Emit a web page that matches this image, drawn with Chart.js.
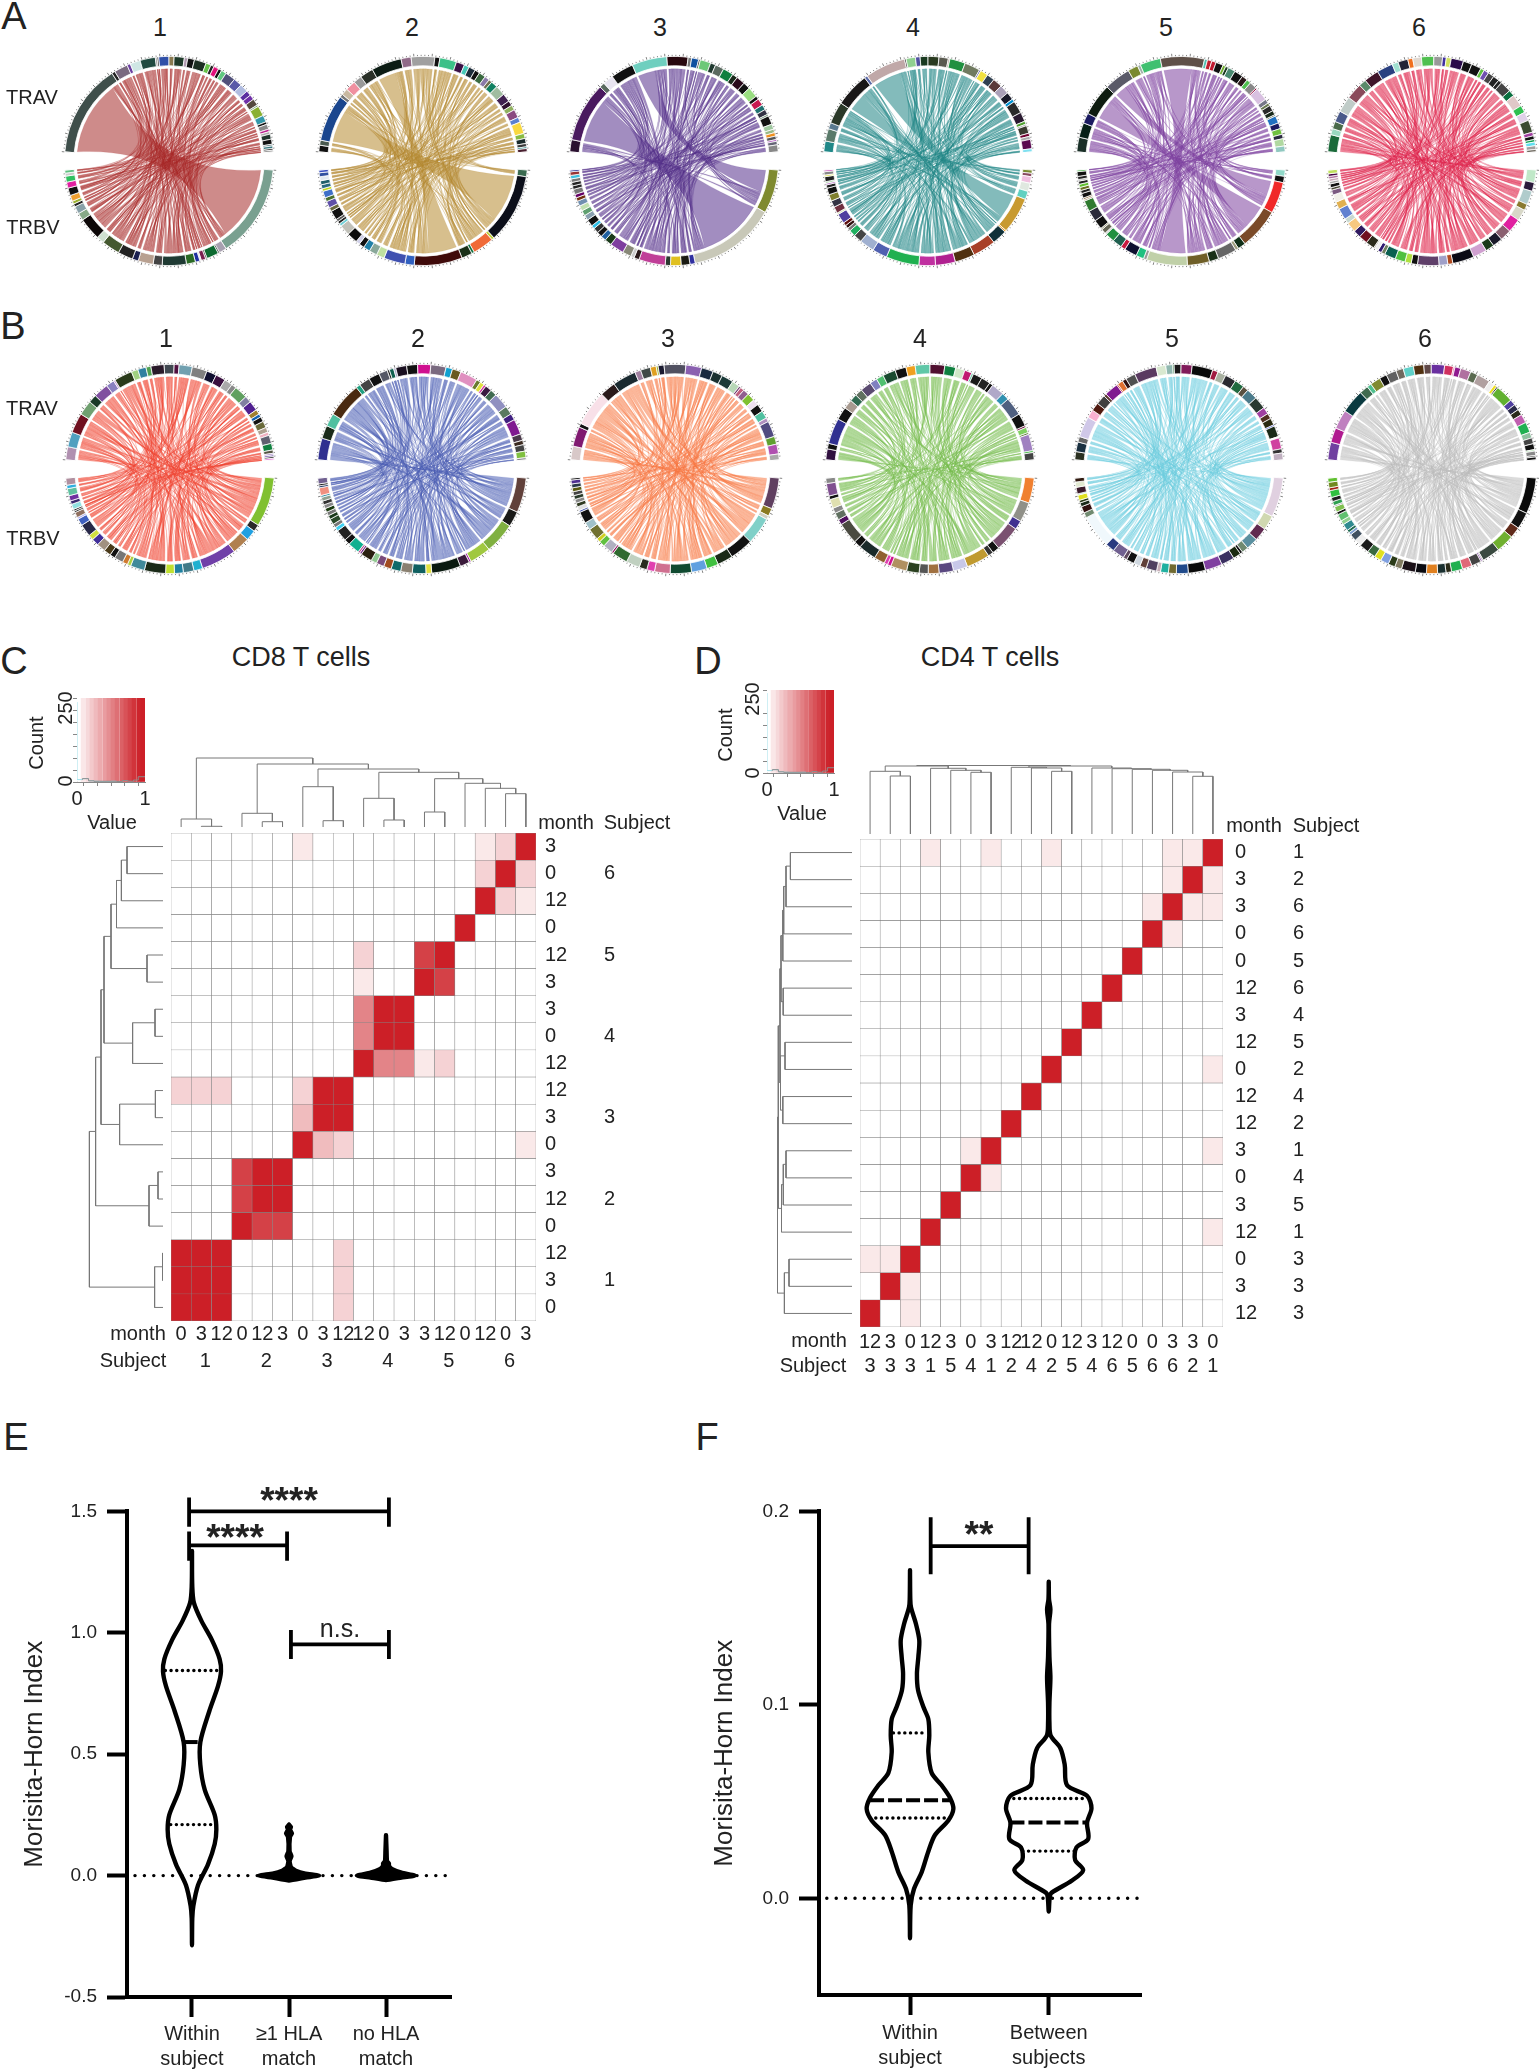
<!DOCTYPE html>
<html><head><meta charset="utf-8">
<script src="https://cdn.jsdelivr.net/npm/chart.js@4"></script>
<style>
html,body{margin:0;padding:0;background:#fff;}
#page{position:relative;width:1539px;height:2070px;overflow:hidden;font-family:"Liberation Sans",Arial,sans-serif;color:#222;}
canvas{position:absolute;display:block;}
.t{position:absolute;white-space:pre;line-height:1;}
</style></head><body><div id="page"></div>
<script>
/* ---------- chord panels: arc widths read from the rings, clockwise ---------- */
const A1_TRAV_W=[55,2,8,2,6,9,1,1,6,3,6,2,4,7,3,2,3,2,3,6,5,5,3,3,4,1,6,4,1.5,3,1.5,1.5,3,3,1,1.5,1,1];
const A1_TRAV_C='#3f4f4b #222 #7a6a80 #6b3fa0 #cfe6e4 #214a40 #888 #222 #3050a8 #8a7a50 #1f3a2a #b09ab0 #111 #1c2e22 #66c24a #222 #e0107a #111 #60c880 #50507a #5a5aa8 #b0bce0 #5b2fa0 #6f2fa8 #554a3e #88aa88 #8ab030 #3398aa #111 #888 #bb2090 #aaa #20352e #111 #4a6a70 #3a7a80 #111 #777'.split(' ');
const A1_TRBV_W=[62,5,1,8,1,3,1,3,6,16,6,10,4,10,12,5,15,5,5,2,2,4,5,4,4,2,2];
const A1_TRBV_C='#79a090 #a8a0b0 #1f2a25 #0d6a30 #222 #7a2050 #ddd #2030a0 #2a6a25 #1f3a33 #444 #b8a090 #1a2050 #222 #44582f #cfe0d0 #0d0808 #88aa88 #88a0a8 #222 #9ab030 #f0a030 #111 #e020a0 #30c060 #ccc #60c080'.split(' ');
const A2_TRAV_W=[4,3,28,2,4,6,5,8,18,6,14,3,10,5,3,4,3,4,3,2,4,6,5,3,3,5,3,7,3,3,2,1,2];
const A2_TRAV_C='#111 #4a5a50 #1a468e #777 #c8b8a0 #f090a0 #999 #2a3028 #0c1c14 #906a88 #a0a0a0 #111 #3cc088 #3a1045 #48c8b8 #1c2c3a #111 #3a6a40 #8a7aa8 #707050 #108060 #a0bca0 #402050 #301030 #90b060 #8a4a80 #5a80d0 #f8d840 #88bb44 #1a2a2a #3a3a3a #208080 #4a2030'.split(' ');
const A2_TRBV_W=[5,52,2,16,2,8,36,7,16,6,6,5,4,3,8,8,2,2,2,7,3,5,3,5,2,3,3,3,3,2];
const A2_TRBV_C='#3a6a50 #0c0f1a #c0d040 #f06a38 #107040 #1a3018 #3f0a0a #3060c0 #3f50b0 #c0e0a0 #8aa89a #2080a8 #111 #d0d0e8 #0c0c0c #c0c0b8 #70d0d8 #222 #555 #111 #6a6a40 #5f50a8 #4a7030 #3f70c8 #c0d820 #2a6a80 #20606a #e0e8f0 #3050a0 #3a50c0'.split(' ');
const A3_TRAV_W=[7,34,3,6,13,20,12,2,4,1,6,3,5,6,3,5,4,6,2,4,3,3,1,5,3,2,2,2,1,2,4];
const A3_TRAV_C='#2a1030 #4a1a5f #5a6a60 #e8e4f0 #111 #6fcfbf #28080f #777 #1050a0 #444 #6dc878 #203a30 #5a6a60 #108040 #1a2a1a #2a0a1a #111 #99dd80 #111 #c81a50 #207070 #334 #6a8a70 #111 #a0c8a0 #99bb88 #ee9020 #555 #b050c0 #667 #888'.split(' ');
const A3_TRBV_W=[25,50,3,5,6,3,15,3,2,5,8,4,3,3,3,2,4,3,3,3,3,2,2,3,2,2,2,2,2,1];
const A3_TRBV_C='#7f8a30 #c8c8b8 #3030a0 #1a1a12 #e0c020 #2a3a30 #c03f98 #2a1a1a #ccc #888878 #7f3f9f #1a3a1a #2060a0 #111 #333 #30c0e8 #111 #8aa0b0 #60a070 #c0e0b0 #7090b0 #703010 #606 #777 #222 #222 #777 #40c0e0 #933 #228'.split(' ');
const A4_TRAV_W=[7,8,4,14,22,2,26,1,6,3,5,7,6,1,10,10,1,5,5,6,6,5,2,8,6,2,1,5,2,2,6,2];
const A4_TRAV_C='#208888 #5a7a6a #5a7a90 #2a3828 #1a1818 #5a6aa8 #c0a8a8 #222 #90d090 #5050a0 #1a3a20 #2a3a20 #5a5a50 #b09a90 #209040 #707a60 #6060a0 #f0e040 #304050 #5a3a3a #aaa0b8 #1a1a2a #0090d0 #2a2a2a #2a1a30 #50a030 #999 #3a3a30 #700030 #aaa #5a0a50 #80e0f0'.split(' ');
const A4_TRBV_W=[2,2,4,5,5,22,1,9,14,12,12,10,20,9,9,5,4,2,2,2,6,1,4,4,4,4,2,1,1,3,1,2,1];
const A4_TRBV_C='#7a8a30 #8a4a60 #f0c0e0 #e0e8e0 #60d0c0 #c89a30 #f0a030 #103038 #a84028 #503010 #b02090 #c030a0 #20b050 #5060b0 #a0b0d0 #444 #20b060 #777 #301010 #601010 #5040a0 #d0e0b0 #703040 #334 #80802f #111 #222 #b060c0 #a0d0a0 #222 #e0e040 #888 #c040b0'.split(' ');
const A5_TRAV_W=[10,10,7,22,18,7,2,14,30,2,3,3,5,2,2,5,6,4,3,5,1,9,3,2,4,3,1,5,4,4,3,5,4];
const A5_TRAV_C='#1a3028 #062018 #1a1a60 #0e1c10 #5a5a68 #7a8a30 #a0b0a8 #40c070 #5f5048 #50c0b0 #c02030 #c01a30 #111 #70b030 #1a3a20 #4a8a70 #111 #2a1a1a #50c050 #888 #901040 #d8c0e0 #778 #6a7a50 #2a2a2a #1a2a1a #5a6a50 #2070c0 #1a1a60 #70c040 #2a2a40 #b0d8a0 #90c8c0'.split(' ');
const A5_TRBV_W=[4,4,20,26,5,2,12,6,14,26,2,5,8,3,6,6,1,3,1,6,7,7,1,1,3,2,2,2,2,1,2,3,1];
const A5_TRBV_C='#90d8c8 #111 #f02828 #7a4a28 #103018 #a0a080 #666 #1a3018 #6f5f28 #c0d0a8 #999 #20c080 #0e1030 #c81a40 #206050 #209040 #ccc #665 #aa8 #111 #2a2a3a #2f7a30 #b0a088 #806030 #111 #222 #6a7020 #60c030 #222 #aaa #222 #111 #30a030'.split(' ');
const A6_TRAV_W=[14,5,6,9,13,13,6,12,13,5,8,4,7,10,7,3,4,10,7,8,3,4,5,5,3,9,5,10,6,7,10,3,3,2,3,3,2];
const A6_TRAV_C='#1a6a3a #9ad8c0 #4a6a4a #4a5a8a #c0ccc8 #8a4a5a #5a8a6a #40152a #2a4080 #a0e0d0 #222438 #f07020 #e0d8d0 #50c050 #999 #4030a0 #d0e060 #2a0a4a #111 #111 #60c040 #7050b0 #444 #222 #222 #444 #0a7040 #e0c8c8 #30c050 #e0d0e8 #3a4a30 #a040a0 #111 #10a050 #60e0f0 #a0a0a0 #706a60'.split(' ');
const A6_TRBV_W=[10,7,11,5,9,11,9,8,7,11,17,4,7,17,5,5,8,9,3,3,3,1,7,7,6,8,4,9,6,6,4,2,3,2,2,2,2,3];
const A6_TRBV_C='#c0e8c8 #2a1a3a #b0cccc #8a7a30 #d8d8c8 #e020a0 #8a6070 #1a1a2a #1a3a1a #d0a0d0 #0a0a14 #b04a20 #a0a0c8 #60406a #111 #b0e040 #50c040 #0a6050 #708060 #301a70 #eee #a8a090 #2a2a1a #701020 #301a60 #f8c880 #c8d8d0 #6080d0 #e0b050 #f0f0e8 #7a5a80 #443 #111 #aaa #c8a8b8 #b070a0 #404 #c0e060'.split(' ');
const B1_TRAV_W=[8,9,12,9,5,9,5,1,11,4,5,3,8,6,3,8,9,6,6,5,3,8,4,6,3,2,3,4,3,2,5,4,2,1,1,1,1];
const B1_TRAV_C='#b090b0 #50a0c0 #701020 #70a070 #1a3a28 #8050a0 #8a80c0 #c090d0 #2a3a1a #a0d080 #3080a0 #50a050 #2a1a2a #404850 #501040 #70a0b0 #808080 #101030 #3a1040 #aaa #888 #60a060 #8080a0 #502090 #a08030 #1060b0 #111 #6a6a3a #b0a090 #f0b0c0 #606070 #108040 #554 #a080c0 #6040a0 #111 #e060d0'.split(' ');
const B1_TRBV_W=[28,4,6,10,20,5,6,5,5,12,8,2,3,5,3,4,5,4,3,7,4,1,3,1,1,3,2,3,4,2,4];
const B1_TRBV_C='#80c030 #2a2a2a #20a0e0 #b08050 #7040a8 #20b0d0 #407a88 #2080a0 #c0e030 #1a2a18 #408a9a #b0d040 #d07a30 #777 #111 #4a3a1a #a09080 #40309a #d0e040 #282848 #4060c0 #a0a0f0 #907060 #333 #222 #90e0e0 #3a2a70 #7030a0 #60c0a0 #30b0e0 #b090a0'.split(' ');
const B2_TRAV_W=[10,6,6,16,2,5,5,4,1,2,1,5,5,6,7,3,4,8,2,2,1,3,3,7,4,3,7,3,2,3,3,1];
const B2_TRAV_C='#303090 #1a2a1a #50c0a0 #4a2a10 #20a080 #444 #111 #555866 #222 #106050 #aac #1a1020 #111 #d01090 #7a6a80 #10a0d0 #6a5a20 #e090c0 #6a7a30 #e0e040 #d030a0 #3a1a40 #406a50 #9090c0 #5a7a60 #402080 #801a90 #4a3a4a #3a2a20 #444 #80c040 #888'.split(' ');
const B2_TRBV_W=[18,8,16,11,1,5,15,3,7,6,5,4,4,3,6,1,1,6,3,6,2,2,3,2,2,2,2,2,2,1,4,1,1,3];
const B2_TRBV_C='#60403a #1a1a18 #80b040 #a0c840 #a020a0 #3a1a3a #0a1a10 #e0e040 #106060 #8a8070 #106a6a #a04a20 #7a4a7a #90c890 #2a2010 #702080 #c05090 #10b090 #111 #222 #40d0f0 #777 #2a4a2a #1a3a1a #777 #1a3a10 #888 #333 #90a090 #3090a0 #f09080 #1a3060 #111 #706090'.split(' ');
const B3_TRAV_W=[7,10,2,18,8,12,3,5,3,1,3,11,8,6,5,6,4,1,2,3,4,3,4,4,2,8,4,5,3];
const B3_TRAV_C='#d8c8c8 #801a70 #111 #f8e0e8 #2a1a1a #1a2a30 #a080a0 #404a48 #e0a020 #9ab030 #1a1a30 #505060 #8a60b0 #1a2a40 #1a3030 #1a3a38 #b8d8b8 #704070 #c06080 #906090 #80c030 #eee0f0 #111 #50c0a0 #b090c0 #504a80 #60a030 #b050b0 #aaa'.split(' ');
const B3_TRBV_W=[16,4,2,14,12,8,6,8,11,8,4,4,7,8,1,5,3,2,6,4,6,1,2,2,2,2,2,2,2,2,1];
const B3_TRBV_C='#604060 #8a7a20 #d0d0c0 #80d0c8 #111 #1a2a18 #40c040 #60a0e0 #104a30 #d07090 #e040b0 #2a2a20 #c0d0c0 #306a30 #901060 #b0b0c0 #60c040 #d0d020 #707030 #a0c0c8 #111 #5060b0 #e0e0e0 #303a20 #888 #2a3a2a #444 #5a5a10 #2a3a4a #503090 #111'.split(' ');
const B4_TRAV_W=[6,3,14,7,5,4,4,6,4,4,7,6,5,8,8,6,5,4,1,5,5,2,7,4,10,7,1,3,1,9,1,4];
const B4_TRAV_C='#301040 #111 #303090 #111 #a89a90 #306a50 #607060 #5a4a70 #8080c0 #50c070 #1a4a30 #111 #f0a020 #60c8a8 #501030 #108040 #d0e8c8 #c01a70 #60c0a0 #1a1a1a #222 #111 #b0a8c8 #3090b0 #506080 #111 #701040 #80d060 #5a7a30 #a080c0 #30b030 #444'.split(' ');
const B4_TRBV_W=[14,11,5,14,4,3,13,8,8,6,5,7,9,2,2,6,10,4,12,3,4,3,5,2,7,3];
const B4_TRBV_C='#f08030 #909088 #403090 #7a5070 #111 #333 #c09a30 #c8c8e8 #5a4880 #a07040 #555 #2a4020 #b09060 #d01090 #e040b0 #906030 #1a2a2a #111 #4a4a40 #501060 #607060 #888 #e0e0b0 #111 #805090 #888'.split(' ');
const B5_TRAV_W=[6,7,4,15,6,6,7,2,10,1,4,3,7,16,7,5,1,5,8,15,4,6,8,7,4,8,9,5,4,5,1,8,1,8,3,5];
const B5_TRAV_C='#2a3020 #1a3040 #666 #d0c8e8 #f8b0d0 #501a10 #404040 #5a3a30 #801a90 #c02020 #e07030 #301010 #505050 #5a3a60 #d8e8d0 #90b8b0 #1a7030 #1a1a1a #801a5a #0a0a0a #a01a40 #a8b0a0 #2a2a30 #206a40 #5a5040 #4a7a8a #2a3a30 #a040a0 #503020 #2a2a10 #3040c0 #1a2a18 #fff #d040a0 #333 #c0b0c0'.split(' ');
const B5_TRBV_W=[30,11,10,9,5,2,6,10,13,13,9,6,6,3,8,5,5,6,3,9,7,25,4,5,3,2,4,1,5,4,3];
const B5_TRBV_C='#e0d0e0 #d0d8b0 #602a50 #5a90a0 #708a70 #111 #1a2a10 #3a3060 #8040a0 #0a0a0a #204a8a #706a30 #20b0a0 #c8b0b8 #504060 #604038 #d0d8e0 #111 #604a60 #706090 #2a3a80 #f0f8fc #708a70 #301010 #1a2a1a #2a3a1a #e0e020 #b0e0c0 #3a1a2a #e0e8d0 #301a10'.split(' ');
const B6_TRAV_W=[12,10,13,16,6,3,7,5,7,5,7,7,5,9,6,1,4,7,5,9,4,2,1,12,4,4,4,6,7,4,4,4,1,3,1,2];
const B6_TRAV_C='#7040a0 #b01a90 #c080c0 #0a3a40 #406a50 #50c090 #808a30 #111 #606060 #706a60 #60d0c8 #503010 #604848 #6a30a0 #d03060 #e060a0 #901a90 #b070a0 #5a6a50 #b0a0a0 #eee #f0e020 #222 #60b030 #5040a0 #2a2a4a #2a2a1a #c060b0 #20b050 #90c0a0 #444 #111 #b0e0b0 #888 #333 #111'.split(' ');
const B6_TRBV_W=[26,12,8,13,13,1,1,7,7,8,4,6,8,8,10,5,5,6,5,6,7,5,5,2,2,5,3,5,2,4,1,3,3,5,2,4,3];
const B6_TRBV_C='#0a0a0a #111 #602a1a #70b030 #3a4a40 #a0a0a0 #6a1a8a #444 #e06878 #20b050 #2a2a18 #1a3030 #e08020 #0a0a10 #1a1018 #807a60 #2a3a18 #80a0e0 #e0e020 #3a6a40 #1a1a1a #eee #405060 #80a0d0 #206a50 #308a90 #90d090 #60c070 #111 #80c050 #888 #30a050 #202020 #30c040 #a02010 #708a20 #60c030'.split(' ');

/* dominant clone pairs: TRAV arc, TRBV arc, share of the arc */
const A1_PAIRS=[[0,0,.92]];
const A2_PAIRS=[[2,1,.8],[8,6,.7]];
const A3_PAIRS=[[1,1,.85],[5,0,.6]];
const A4_PAIRS=[[6,5,.8],[4,6,.6]];
const A5_PAIRS=[[8,9,.75],[3,3,.65],[4,2,.55]];
const NO_PAIRS=[];
const RIBBON_A=['#a62b2a','#b68a30','#55308c','#1e8484','#7d429e','#e0264a'];
const RIBBON_B=['#f0442f','#4a5fb5','#f77b47','#73bc4a','#6dcde0','#bdbdbd'];

/* ---------- heatmaps ---------- */
const C_COL_MONTH=['0','3','12','0','12','3','0','3','12','12','0','3','3','12','0','12','0','3'];
const C_COL_SUBJECT=['','1','','','2','','','3','','','4','','','5','','','6',''];
const C_ROW_MONTH=['3','0','12','0','12','3','3','0','12','12','3','0','3','12','0','12','3','0'];
const C_ROW_SUBJECT=['','6','','','5','','','4','','','3','','','2','','','1',''];
/* non-zero cells: row, column, value */
const C_CELLS=[[0,6,.1],[0,15,.1],[0,16,.2],[0,17,1],[1,15,.2],[1,16,1],[1,17,.2],[2,15,1],[2,16,.2],[2,17,.1],[3,14,1],
[4,9,.2],[4,12,.85],[4,13,1],[5,9,.1],[5,12,1],[5,13,.85],[6,9,.55],[6,10,1],[6,11,1],[7,9,.55],[7,10,1],[7,11,1],
[8,9,1],[8,10,.55],[8,11,.55],[8,12,.1],[8,13,.2],[9,0,.2],[9,1,.2],[9,2,.2],[9,6,.2],[9,7,1],[9,8,1],[10,6,.3],[10,7,1],[10,8,1],
[11,6,1],[11,7,.3],[11,8,.2],[11,17,.1],[12,3,.85],[12,4,1],[12,5,1],[13,3,.85],[13,4,1],[13,5,1],[14,3,1],[14,4,.85],[14,5,.85],
[15,0,1],[15,1,1],[15,2,1],[15,8,.2],[16,0,1],[16,1,1],[16,2,1],[16,8,.2],[17,0,1],[17,1,1],[17,2,1],[17,8,.2]];
const D_COL_MONTH=['12','3','0','12','3','0','3','12','12','0','12','3','12','0','0','3','3','0'];
const D_COL_SUBJECT=['3','3','3','1','5','4','1','2','4','2','5','4','6','5','6','6','2','1'];
const D_ROW_MONTH=['0','3','3','0','0','12','3','12','0','12','12','3','0','3','12','0','3','12'];
const D_ROW_SUBJECT=['1','2','6','6','5','6','4','5','2','4','2','1','4','5','1','3','3','3'];
const D_CELLS=[[0,3,.1],[0,6,.1],[0,9,.1],[0,15,.1],[0,16,.1],[0,17,1],[1,15,.1],[1,16,1],[1,17,.1],[2,14,.1],[2,15,1],[2,16,.1],[2,17,.1],
[3,14,1],[3,15,.1],[4,13,1],[5,12,1],[6,11,1],[7,10,1],[8,9,1],[8,17,.1],[9,8,1],[10,7,1],[11,5,.1],[11,6,1],[11,17,.1],[12,5,1],[12,6,.1],
[13,4,1],[14,3,1],[14,17,.1],[15,0,.1],[15,1,.1],[15,2,1],[16,1,1],[16,2,.1],[17,0,1],[17,2,.1]];

/* dendrograms: [height, childA, childB], a number is a leaf */
const C_TOP_TREE=[69,[8,0,[0.7,1,2]],[63,[13.7,3,[5.3,4,5]],[58,[40.3,6,[6.3,7,8]],[54.7,[28.7,9,[7,10,11]],[48.3,[15,12,13],[43.7,14,[38.7,15,[33.3,16,17]]]]]]]];
const C_LEFT_TREE=[73.6,[67.4,[62,[59,[52,[46.5,[41.6,[36,0,1],2],3],[16,4,5]],[30.4,[8,6,7],8]],[43.4,[7.6,9,10],11]],[14,[5,12,13],14]],[8.4,[0.5,15,16],17]];
const D_TOP_TREE=[68.5,[68,[62.7,0,[58,1,2]],[65.7,3,[63.7,4,[61.7,5,6]]]],[68,[66.7,7,[66,8,[62.7,9,10]]],[66,11,[65.3,12,[64.7,13,[63.7,14,[62,15,[57.7,16,17]]]]]]]];
const D_LEFT_TREE=[74.5,[73.7,[72,[71,[69.2,[68.3,[66,[61.6,0,1],2],3],4],[68.8,5,6]],[71.5,[67,7,8],[69.2,9,10]]],[70.5,[68.7,[66,11,12],13],14]],[67.6,[63,15,16],17]];

/* colour key: histogram of values */
const KEY_BINS=[.03,.09,.16,.22,.28,.34,.41,.47,.53,.59,.66,.72,.78,.84,.91,.97];
const KEY_HIST_BLUE=[[0,333],[.08,10],[.17,14],[.25,5],[.33,3],[.42,2],[.5,2],[.58,3]];
const KEY_HIST_GRAY=[[.08,10],[.17,14],[.25,5],[.33,3],[.58,3],[.67,2],[.75,6],[.83,3],[.9,8],[.94,22],[1,22]];

/* ---------- violins: [value, half width in category units] ---------- */
const E_WITHIN=[[1.337,0],[1.19,.003],[1.123,.02],[1.05,.096],[.97,.206],[.892,.285],[.841,.299],[.78,.268],[.678,.179],[.55,.086],[.456,.086],[.354,.131],[.25,.234],[.19,.251],[.13,.234],[.046,.165],[-.04,.062],[-.125,.014],[-.176,.003],[-.287,0]];
const E_HLA=[[.21,0],[.2,.02],[.19,.01],[.174,.03],[.16,.01],[.1,.006],[.08,.025],[.06,.006],[.035,.02],[.02,.07],[.008,.17],[0,.31],[-.008,.17],[-.02,0]];
const E_NOHLA=[[.166,0],[.1,.006],[.06,.01],[.05,.03],[.04,.03],[.025,.07],[.012,.16],[0,.3],[-.008,.16],[-.018,0]];
const E_QUARTILES=[[1,.845,.275,'dot'],[1,.55,.086,'dash'],[1,.21,.22,'dot']];
const E_BRACKETS=[[.97,3.03,1.5,1.437,1.557],[.97,1.98,1.36,1.297,1.417],[2.02,3.03,.952,.892,1.012]];
const F_WITHIN=[[.1696,0],[.1547,.002],[.1504,.007],[.1418,.043],[.1333,.067],[.1247,.06],[.1161,.05],[.1076,.058],[.099,.096],[.0926,.132],[.0841,.139],[.0755,.132],[.0648,.156],[.0584,.228],[.052,.288],[.0462,.3125],[.0402,.276],[.0327,.18],[.0242,.132],[.0135,.084],[.0049,.029],[-.0036,.005],[-.0207,0]];
const F_BETWEEN=[[.1636,0],[.1547,.002],[.1493,.012],[.1418,.002],[.1247,.005],[.114,.012],[.1012,.005],[.0905,.005],[.0841,.014],[.0776,.084],[.0691,.115],[.0584,.132],[.053,.276],[.0466,.308],[.0391,.276],[.0306,.284],[.0263,.2],[.0199,.19],[.0145,.248],[.0092,.168],[.0028,.019],[.0006,.007],[-.0068,0]];
const F_QUARTILES=[[1,.0855,.12,'dot'],[1,.0507,.288,'dash'],[1,.0415,.288,'dot'],[2,.0516,.252,'dot'],[2,.0392,.276,'dash'],[2,.0244,.187,'dot']];
const F_BRACKETS=[[1.149,1.855,.182,.1675,.197]];
const E_LABELS=[['Within','subject'],['≥1 HLA','match'],['no HLA','match']];
const F_LABELS=[['Within','subject'],['Between','subjects']];

/* ---------- free text: string, x, y, size, rotation, weight ---------- */
const TEXTS=[['A',14,16,38],['B',13,326,38],['C',14,661,38],['D',708,661,38],['E',16,1437,38],['F',707,1437,38],
['1',160,27,25],['2',412,27,25],['3',660,27,25],['4',913,27,25],['5',1166,27,25],['6',1419,27,25],
['1',166,338,25],['2',418,338,25],['3',668,338,25],['4',920,338,25],['5',1172,338,25],['6',1425,338,25],
['TRAV',32,97,20],['TRBV',33,227,20],['TRAV',32,408,20],['TRBV',33,538,20],
['CD8 T cells',301,657,27],['CD4 T cells',990,657,27],
['250',65,708,20,-90],['0',65,781,20,-90],['Count',36,743,20,-90],['Value',112,822,20],
['250',752,699,20,-90],['0',752,773,20,-90],['Count',725,735,20,-90],['Value',802,813,20],
['month',566,822,20],['Subject',637,822,20],['month',138,1333,20],['Subject',133,1360,20],
['month',1254,825,20],['Subject',1326,825,20],['month',819,1340,20],['Subject',813,1365,20],
['****',289,1500,37,0,'bold'],['****',235,1537,37,0,'bold'],['n.s.',340,1628,25],['**',979,1534,37,0,'bold']];

/* ---------- helpers ---------- */
Chart.defaults.animation=false;
Chart.defaults.plugins.legend.display=false;
Chart.defaults.plugins.tooltip.enabled=false;
Chart.defaults.font.family='"Liberation Sans",Arial,sans-serif';
Chart.defaults.color='#222';
const page=document.getElementById('page');
function addCanvas(left,top,w,h){
  const c=document.createElement('canvas');
  c.width=w;c.height=h;c.style.left=left+'px';c.style.top=top+'px';c.style.width=w+'px';c.style.height=h+'px';
  page.appendChild(c);return c;
}
const base={responsive:false,maintainAspectRatio:false,events:[]};
const noPad=s=>{s.paddingTop=0;s.paddingBottom=0;s.paddingLeft=0;s.paddingRight=0;};

/* chord */
const GAP_DEG=10,HALF_DEG=170,PASSES=4,PINCH=.28;
const gcd=(a,b)=>b?gcd(b,a%b):a;
function order(n,stride,off){let s=stride;while(gcd(s,n)!==1)s++;const o=[];for(let k=0;k<n;k++)o.push((k*s+off)%n);return o;}
function buildLinks(aW,bW,pairs){
  const sa=aW.reduce((x,y)=>x+y,0),sb=bW.reduce((x,y)=>x+y,0);
  const ra=aW.map(v=>v/sa),rb=bW.map(v=>v/sb),fa=ra.slice(),fb=rb.slice(),links=[];
  pairs.forEach(([i,j,f])=>{links.push([i,j,fa[i]*f,fb[j]*f]);ra[i]-=fa[i]*f;rb[j]-=fb[j]*f;});
  const strA=[7,11,5,13],strB=[5,17,9,3];
  for(let p=0;p<PASSES;p++){
    const oa=order(aW.length,strA[p],p*3),ob=order(bW.length,strB[p],p*5);
    const ta=ra.reduce((x,y)=>x+y,0),tb=rb.reduce((x,y)=>x+y,0);
    let ia=0,ib=0,la=ra[oa[0]]/ta,lb=rb[ob[0]]/tb;
    while(ia<oa.length&&ib<ob.length){
      const d=Math.min(la,lb);
      if(d>1e-6)links.push([oa[ia],ob[ib],d*ta/PASSES,d*tb/PASSES]);
      la-=d;lb-=d;
      if(la<=1e-9){ia++;if(ia<oa.length)la=ra[oa[ia]]/ta;}
      if(lb<=1e-9){ib++;if(ib<ob.length)lb=rb[ob[ib]]/tb;}
    }
  }
  return {links,fa,fb};
}
function hexA(h,a){let s=h.slice(1);const r=parseInt(s.slice(0,2),16),g=parseInt(s.slice(2,4),16),b=parseInt(s.slice(4,6),16);return `rgba(${r},${g},${b},${a})`;}
const chordPlugin={id:'chord',
 beforeDatasetsDraw(chart){
  const o=chart.options.plugins.chord;if(!o||!o.a)return;
  const arcs=chart.getDatasetMeta(0).data,ctx=chart.ctx,n=o.a.length,m=o.b.length;
  const cx=arcs[0].x,cy=arcs[0].y,r=arcs[0].innerRadius-3;
  const {links,fa,fb}=buildLinks(o.a,o.b,o.pairs);
  const curA=new Array(n).fill(0),curB=new Array(m).fill(0);
  const span=(el,cur,w,tot)=>{const W=el.endAngle-el.startAngle,mar=Math.min(.012,W*.22),s=el.startAngle+mar,L=W-2*mar;return [s+L*cur/tot,s+L*(cur+w)/tot];};
  const pt=(t,k)=>[cx+r*k*Math.cos(t),cy+r*k*Math.sin(t)];
  ctx.save();
  ctx.fillStyle=hexA(o.color,.55);ctx.strokeStyle=hexA(o.color,.35);ctx.lineWidth=.35;
  links.forEach(([i,j,wa,wb])=>{
    const [a1,a2]=span(arcs[i],curA[i],wa,fa[i]);curA[i]+=wa;
    const [b1,b2]=span(arcs[n+1+j],curB[j],wb,fb[j]);curB[j]+=wb;
    const am=(a1+a2)/2,bm=(b1+b2)/2;
    ctx.beginPath();
    ctx.arc(cx,cy,r,a1,a2);
    ctx.bezierCurveTo(...pt(am,PINCH),...pt(bm,PINCH),...pt(b1,1));
    ctx.arc(cx,cy,r,b1,b2);
    ctx.bezierCurveTo(...pt(bm,PINCH),...pt(am,PINCH),...pt(a1,1));
    ctx.closePath();ctx.fill();ctx.stroke();
  });
  /* axis ticks outside the ring */
  ctx.strokeStyle='#333';ctx.lineWidth=.6;
  const R=arcs[0].outerRadius,step=2*Math.PI/180;
  [[0,n],[n+1,n+1+m]].forEach(([p,q])=>{
    const s=arcs[p].startAngle,e=arcs[q-1].endAngle;let k=0;
    for(let t=s;t<=e;t+=step,k++){
      const L=k%5===0?3:1.6;
      ctx.beginPath();ctx.moveTo(cx+R*Math.cos(t),cy+R*Math.sin(t));ctx.lineTo(cx+(R+L)*Math.cos(t),cy+(R+L)*Math.sin(t));ctx.stroke();
    }
  });
  ctx.restore();
 }};
function chord(cx,cy,aW,aC,bW,bC,pairs,color){
  const sa=aW.reduce((x,y)=>x+y,0),sb=bW.reduce((x,y)=>x+y,0);
  const data=[...aW.map(v=>v/sa*HALF_DEG),GAP_DEG,...bW.map(v=>v/sb*HALF_DEG),GAP_DEG];
  const full=c=>c.length===4?'#'+c[1]+c[1]+c[2]+c[2]+c[3]+c[3]:c;
  const colors=[...aC.map(full),'rgba(0,0,0,0)',...bC.map(full),'rgba(0,0,0,0)'];
  new Chart(addCanvas(cx-120,cy-120,240,240),{type:'doughnut',
    data:{labels:data.map((_,i)=>String(i)),datasets:[{data,backgroundColor:colors,borderColor:'#fff',borderWidth:.8}]},
    options:{...base,layout:{padding:15},cutout:'91%',rotation:-85,circumference:360,
      plugins:{chord:{a:aW,b:bW,pairs,color}}},
    plugins:[chordPlugin]});
}
[[169,161,A1_TRAV_W,A1_TRAV_C,A1_TRBV_W,A1_TRBV_C,A1_PAIRS,RIBBON_A[0]],
 [423,161,A2_TRAV_W,A2_TRAV_C,A2_TRBV_W,A2_TRBV_C,A2_PAIRS,RIBBON_A[1]],
 [674,161,A3_TRAV_W,A3_TRAV_C,A3_TRBV_W,A3_TRBV_C,A3_PAIRS,RIBBON_A[2]],
 [928,161,A4_TRAV_W,A4_TRAV_C,A4_TRBV_W,A4_TRBV_C,A4_PAIRS,RIBBON_A[3]],
 [1181,161,A5_TRAV_W,A5_TRAV_C,A5_TRBV_W,A5_TRBV_C,A5_PAIRS,RIBBON_A[4]],
 [1432,161,A6_TRAV_W,A6_TRAV_C,A6_TRBV_W,A6_TRBV_C,NO_PAIRS,RIBBON_A[5]],
 [170,469,B1_TRAV_W,B1_TRAV_C,B1_TRBV_W,B1_TRBV_C,NO_PAIRS,RIBBON_B[0]],
 [422,469,B2_TRAV_W,B2_TRAV_C,B2_TRBV_W,B2_TRBV_C,NO_PAIRS,RIBBON_B[1]],
 [675,469,B3_TRAV_W,B3_TRAV_C,B3_TRBV_W,B3_TRBV_C,NO_PAIRS,RIBBON_B[2]],
 [930,469,B4_TRAV_W,B4_TRAV_C,B4_TRBV_W,B4_TRBV_C,NO_PAIRS,RIBBON_B[3]],
 [1179,469,B5_TRAV_W,B5_TRAV_C,B5_TRBV_W,B5_TRBV_C,NO_PAIRS,RIBBON_B[4]],
 [1432,469,B6_TRAV_W,B6_TRAV_C,B6_TRBV_W,B6_TRBV_C,NO_PAIRS,RIBBON_B[5]]
].forEach(a=>chord(...a));

/* heatmap */
const heatColor=v=>`rgb(${Math.round(255-v*51)},${Math.round(255-v*224)},${Math.round(255-v*216)})`;
function heatmap(left,top,areaW,cells,colM,colS,rowM,rowS,o){
  const grid=Array.from({length:18},()=>new Array(18).fill(0));
  cells.forEach(([r,c,v])=>grid[r][c]=v);
  const datasets=grid.map((row,r)=>({data:row.map(()=>[r,r+1]),backgroundColor:row.map(heatColor),
    borderColor:'#858585',borderWidth:.55,borderSkipped:false,grouped:false,barPercentage:1,categoryPercentage:1,xAxisID:'x',yAxisID:'y'}));
  const lab={display:true,grid:{display:false,drawTicks:false},border:{display:false}};
  const font={size:20};
  new Chart(addCanvas(left,top,10+areaW+o.mw+40,10+488+o.h1+27),{type:'bar',
    data:{labels:colM,datasets},
    options:{...base,layout:{padding:{left:10,top:10,right:0,bottom:0}},
     scales:{
      x:{type:'category',position:'bottom',weight:0,offset:true,...lab,ticks:{font,padding:o.p1,autoSkip:false,maxRotation:0,minRotation:0},afterFit:s=>{s.height=o.h1;noPad(s);}},
      xSub:{type:'category',position:'bottom',weight:1,offset:true,labels:colS,...lab,ticks:{font,padding:o.p2,autoSkip:false,maxRotation:0,minRotation:0,labelOffset:o.off},afterFit:s=>{s.height=27;noPad(s);}},
      y:{type:'linear',min:0,max:18,reverse:true,display:false},
      yMonth:{type:'category',position:'right',weight:0,offset:true,labels:rowM,...lab,ticks:{font,padding:o.pm,autoSkip:false},afterFit:s=>{s.width=o.mw;noPad(s);}},
      ySubject:{type:'category',position:'right',weight:1,offset:true,labels:rowS,...lab,ticks:{font,padding:10,autoSkip:false},afterFit:s=>{s.width=40;noPad(s);}}
     }}});
}
heatmap(161,823,365,C_CELLS,C_COL_MONTH,C_COL_SUBJECT,C_ROW_MONTH,C_ROW_SUBJECT,{mw:58,pm:9,h1:27,p1:1,p2:1,off:4});
heatmap(850,829,363,D_CELLS,D_COL_MONTH,D_COL_SUBJECT,D_ROW_MONTH,D_ROW_SUBJECT,{mw:60,pm:12,h1:25,p1:3,p2:2,off:0});

/* dendrograms */
function treeLines(t,out){
  if(typeof t==='number')return [t+.5,0];
  const [pa,ha]=treeLines(t[1],out),[pb,hb]=treeLines(t[2],out);
  out.push([[pa,ha],[pa,t[0]],[pb,t[0]],[pb,hb]]);
  return [(pa+pb)/2,t[0]];
}
function dendro(left,top,w,h,tree,horizontal,maxH){
  const segs=[];treeLines(tree,segs);
  const datasets=segs.map(s=>({data:s.map(([p,v])=>horizontal?{x:v,y:p}:{x:p,y:v}),showLine:true,pointRadius:0,borderColor:'#777',borderWidth:1,clip:false}));
  const pos={type:'linear',min:0,max:18,display:false},ht={type:'linear',min:0,max:maxH,display:false};
  new Chart(addCanvas(left-2,top-2,w+4,h+4),{type:'scatter',data:{datasets},
    options:{...base,layout:{padding:2},scales:horizontal?{x:{...ht,reverse:true},y:{...pos,reverse:true}}:{x:pos,y:ht}}});
}
dendro(171,752.3,365,75,C_TOP_TREE,false,75);
dendro(83,833,80,488,C_LEFT_TREE,true,80);
dendro(860,759,363,75,D_TOP_TREE,false,75);
dendro(772,839,80,488,D_LEFT_TREE,true,80);

/* colour keys */
function colorKey(left,top,w,h,yMax){
  const bars=KEY_BINS.map(x=>({x,y:yMax}));
  const shade=KEY_BINS.map((_,i)=>heatColor(i===0?0:Math.min(1,(i+.6)/15)));
  const pts=a=>a.map(([x,y])=>({x,y}));
  new Chart(addCanvas(left,top,10+w+10,6+h+34),{type:'bar',
    data:{datasets:[
      {type:'line',data:pts(KEY_HIST_GRAY),stepped:'after',borderColor:'#8d8d8d',borderWidth:1,pointRadius:0,order:0},
      {type:'line',data:pts(KEY_HIST_BLUE),stepped:'after',borderColor:'#9fe0ea',borderWidth:1,pointRadius:0,order:0},
      {data:bars,backgroundColor:shade,barPercentage:1,categoryPercentage:1,order:1}]},
    options:{...base,layout:{padding:{top:6,right:10,left:0,bottom:0}},
      scales:{
       x:{type:'linear',min:0,max:1,offset:false,grid:{display:true,drawOnChartArea:false,tickLength:4,color:'#888'},border:{color:'#888'},
          ticks:{stepSize:.2,font:{size:20},padding:1,maxRotation:0,autoSkip:false,callback:v=>(v===0||Math.abs(v-1)<1e-6)?String(Math.round(v)):''},afterFit:s=>{s.height=34;}},
       y:{type:'linear',min:0,max:yMax,grid:{display:true,drawOnChartArea:false,tickLength:4,color:'#888'},border:{color:'#888'},
          ticks:{stepSize:50,display:false},afterFit:s=>{s.width=10;}}
      }}});
}
colorKey(67,692,68,84,350);
colorKey(757,684,67,83,346);

/* violins */
function violinPts(center,arr){
  const r=arr.map(([v,h])=>({x:center+h,y:v})),l=arr.slice().reverse().map(([v,h])=>({x:center-h,y:v}));
  return [...r,...l.slice(1)];
}
function violinChart(o){
  const line={showLine:true,pointRadius:0,clip:false,borderColor:'#000'};
  const ds=[];
  ds.push({...line,data:[{x:o.ref[0],y:0},{x:o.ref[1],y:0}],borderWidth:3.4,borderDash:[.1,9.3],borderCapStyle:'round'});
  o.violins.forEach(([c,a,t,solid])=>ds.push({...line,data:violinPts(c,a),borderWidth:4.4,tension:t,borderCapStyle:'round',borderJoinStyle:'round',
     fill:solid?'shape':false,backgroundColor:'#000'}));
  o.quart.forEach(([c,v,h,k])=>ds.push({...line,data:[{x:c-h,y:v},{x:c+h,y:v}],borderWidth:k==='dot'?3.4:4,
     borderDash:k==='dot'?[.1,5.6]:[14,4],borderCapStyle:k==='dot'?'round':'butt'}));
  o.brackets.forEach(([a,b,y,lo,hi])=>ds.push({...line,data:[{x:a,y:lo},{x:a,y:hi},{x:a,y},{x:b,y},{x:b,y:hi},{x:b,y:lo}],borderWidth:3.8}));
  const axisGrid={display:true,drawOnChartArea:false,tickLength:20,tickWidth:4,tickColor:'#000'};
  new Chart(addCanvas(o.left,o.top,o.w,o.h),{type:'scatter',data:{datasets:ds},
   options:{...base,layout:{padding:{left:0,top:o.padTop,right:15,bottom:0}},
    scales:{
     x:{type:'linear',min:o.xr[0],max:o.xr[1],grid:axisGrid,border:{display:true,width:4,color:'#000'},
        afterBuildTicks:s=>{s.ticks=o.labels.map((_,i)=>({value:i+1}));},
        ticks:{autoSkip:false,maxRotation:0,font:{size:20,lineHeight:1.25},padding:o.xp,callback:v=>o.labels[Math.round(v)-1]},
        afterFit:s=>{s.height=o.xh;}},
     y:{type:'linear',min:o.yr[0],max:o.yr[1],grid:axisGrid,border:{display:true,width:4,color:'#000'},
        afterBuildTicks:s=>{s.ticks=o.yt.map(value=>({value}));},
        ticks:{font:{size:19},padding:10,callback:v=>Number(v).toFixed(1)},
        title:{display:true,text:'Morisita-Horn Index',font:{size:26},color:'#222',padding:{top:o.titlePad,bottom:0}},
        afterFit:s=>{s.width=o.yw;}}
    }}});
}
violinChart({left:10,top:1490,w:456,h:580,padTop:20,yw:117,xh:73,titlePad:9,xp:5,xr:[.33,3.67],yr:[-.5,1.5],yt:[-.5,0,.5,1,1.5],ref:[.412,3.66],labels:E_LABELS,
  violins:[[1,E_WITHIN,.3,false],[2,E_HLA,.15,true],[3,E_NOHLA,.15,true]],quart:E_QUARTILES,brackets:E_BRACKETS});
violinChart({left:700,top:1490,w:456,h:580,padTop:20,yw:119,xh:75,titlePad:9,xp:6,xr:[.344,2.665],yr:[-.05,.2],yt:[0,.1,.2],ref:[.4,2.658],labels:F_LABELS,
  violins:[[1,F_WITHIN,.3,false],[2,F_BETWEEN,.3,false]],quart:F_QUARTILES,brackets:F_BRACKETS});

/* free text */
TEXTS.forEach(([s,x,y,size,rot,weight])=>{
  const d=document.createElement('div');d.className='t';d.textContent=s;
  d.style.left=x+'px';d.style.top=y+'px';d.style.fontSize=size+'px';
  if(weight)d.style.fontWeight=weight;
  d.style.transform=`translate(-50%,-50%) rotate(${rot||0}deg)`;
  page.appendChild(d);
});
</script></body></html>
